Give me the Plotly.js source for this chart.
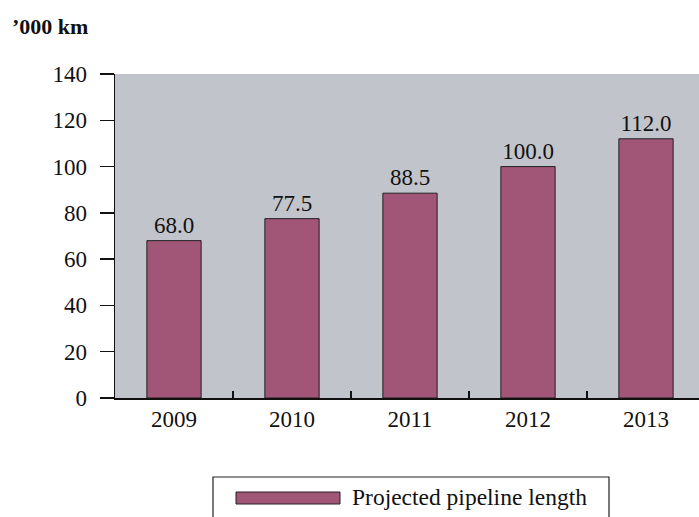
<!DOCTYPE html>
<html>
<head>
<meta charset="utf-8">
<script src="https://cdn.plot.ly/plotly-3.0.1.min.js"></script>
<style>
  html, body { margin: 0; padding: 0; overflow: hidden; background: #fff; }
  #chart { width: 710px; height: 517px; }
</style>
</head>
<body>
<div id="chart"></div>
<script>
// Projected pipeline length, thousand km
const years = ['2009', '2010', '2011', '2012', '2013'];
const lengths = [68.0, 77.5, 88.5, 100.0, 112.0];
const seriesName = 'Projected pipeline length';
const unitLabel = '\u2019000 km';

const serif = 'Liberation Serif';
const barColor = '#A15577';

const W = 710, H = 517;
const M = { l: 115, r: 5, t: 74, b: 119 };
const plotW = W - M.l - M.r, plotH = H - M.t - M.b;

const trace = {
  type: 'bar',
  x: years,
  y: lengths,
  name: seriesName,
  marker: { color: barColor, line: { color: '#222', width: 1 } },
  text: lengths.map(v => v.toFixed(1)),
  textposition: 'outside',
  textfont: { family: serif, size: 23, color: '#111' },
  cliponaxis: false,
  hoverinfo: 'x+y'
};

// legend drawn as a boxed swatch with its label beneath the plot;
// pixel positions on the page converted to plot-area (paper) fractions
const px = (x) => (x - M.l) / plotW;
const py = (y) => (H - M.b - y) / plotH;

const layout = {
  width: W,
  height: H,
  margin: M,
  paper_bgcolor: '#ffffff',
  plot_bgcolor: '#C1C4CB',
  showlegend: false,
  bargap: 0.54,
  font: { family: serif, size: 23, color: '#111' },
  title: {
    text: '<b>' + unitLabel + '</b>',
    font: { family: serif, size: 22, color: '#111' },
    xref: 'container', yref: 'container',
    x: 12 / W, xanchor: 'left',
    y: 1 - 26 / H, yanchor: 'middle'
  },
  xaxis: {
    type: 'category',
    showline: true, linecolor: '#111', linewidth: 1.5,
    ticks: 'inside', tickson: 'boundaries', ticklen: 7, tickcolor: '#111', tickwidth: 1.5,
    showgrid: false, zeroline: false,
    tickfont: { family: serif, size: 23, color: '#111' },
    ticklabelstandoff: 0
  },
  yaxis: {
    range: [0, 140], dtick: 20,
    showline: true, linecolor: '#111', linewidth: 1.5,
    ticks: 'outside', ticklen: 14, tickcolor: '#111', tickwidth: 1.5,
    showgrid: false, zeroline: false,
    tickfont: { family: serif, size: 23, color: '#111' },
    ticklabelstandoff: 8
  },
  shapes: [
    { type: 'rect', xref: 'paper', yref: 'paper',
      x0: px(213), x1: px(609), y0: py(530), y1: py(477),
      line: { color: '#222', width: 1.2 }, fillcolor: 'rgba(0,0,0,0)' },
    { type: 'rect', xref: 'paper', yref: 'paper',
      x0: px(236), x1: px(340), y0: py(504), y1: py(492),
      line: { color: '#222', width: 1 }, fillcolor: barColor }
  ],
  annotations: [
    { xref: 'paper', yref: 'paper', x: px(350), y: py(497),
      xanchor: 'left', yanchor: 'middle', showarrow: false,
      text: seriesName, font: { family: serif, size: 23.5, color: '#111' } }
  ]
};

Plotly.newPlot('chart', [trace], layout, { displayModeBar: false, staticPlot: true });
</script>
</body>
</html>
